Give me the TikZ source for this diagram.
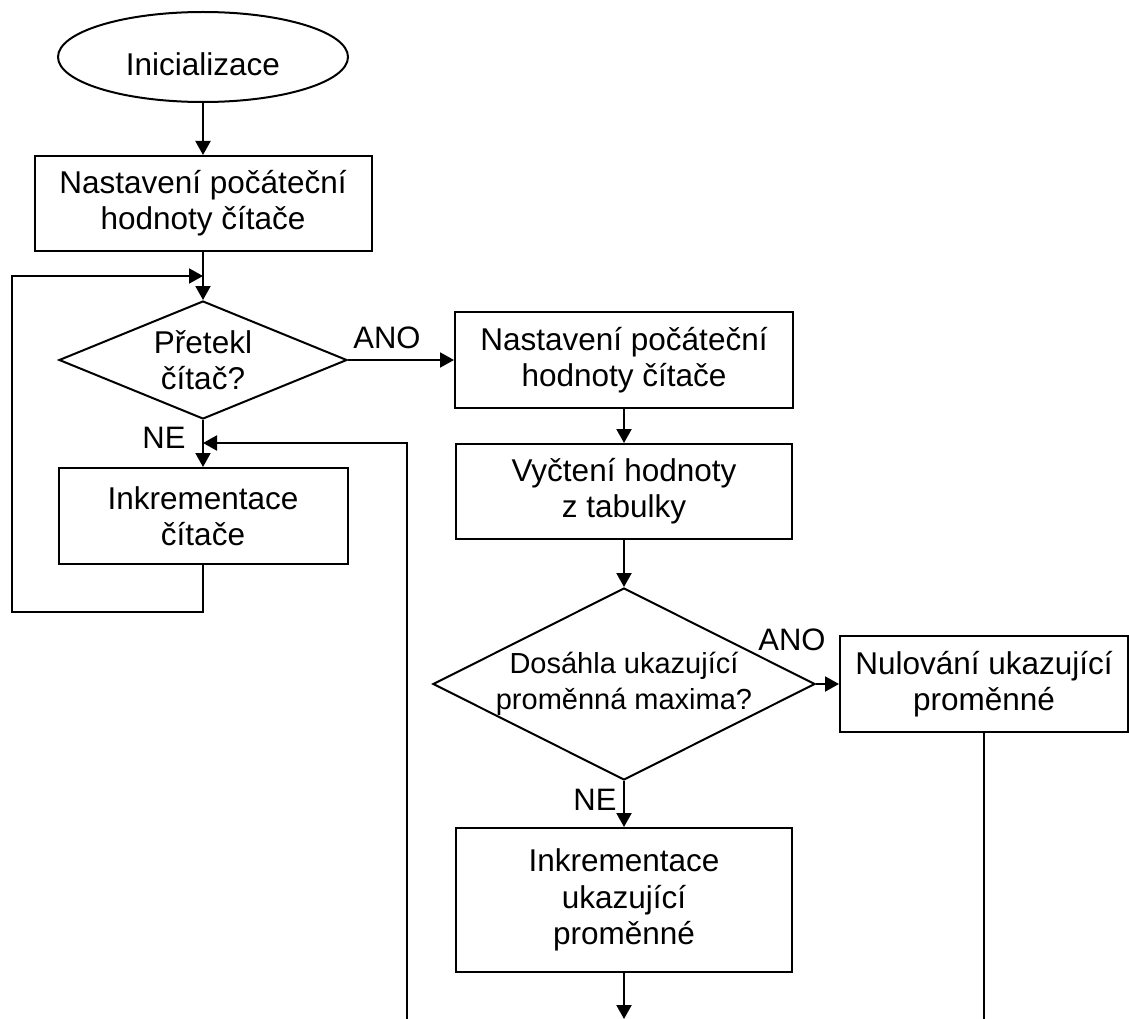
\documentclass[tikz,border=0pt]{standalone}
\usepackage{fontspec}
\setmainfont{Liberation Sans}
\usetikzlibrary{shapes.geometric,arrows.meta}
\begin{document}
\begin{tikzpicture}[x=1pt,y=-1pt,
  txt/.style={font=\fontsize{31.5}{36.2}\selectfont, inner sep=0pt, align=center},
  small/.style={font=\fontsize{29}{35.5}\selectfont},
  proc/.style={txt, draw, line width=2pt, rectangle},
  term/.style={txt, draw, line width=2pt, ellipse},
  test/.style={txt, draw, line width=2pt, diamond},
  lbl/.style={font=\fontsize{31}{36}\selectfont, inner sep=0pt},
  flow/.style={line width=2pt, -{Triangle[length=14pt,width=15pt]}},
  wire/.style={line width=2pt}]
\fill[white] (0,0) rectangle (1129,1019);
\useasboundingbox (0,0) rectangle (1129,1019);

% left column
\node[term, text height=37pt, text depth=0pt, minimum width=290, minimum height=90] (init) at (203,57) {Inicializace};
\node[proc, minimum width=337, minimum height=95] (set1) at (203,203.5) {Nastavení počáteční\\hodnoty čítače};
\node[test, aspect=2.44, minimum width=288, minimum height=118] (dec1) at (203,360) {Přetekl\\čítač?};
\node[proc, minimum width=289, minimum height=96] (inc1) at (203,516) {Inkrementace\\čítače};

% right column
\node[proc, minimum width=338, minimum height=96] (set2) at (624,360) {Nastavení počáteční\\hodnoty čítače};
\node[proc, minimum width=336, minimum height=95] (read) at (624,491.5) {Vyčtení hodnoty\\z tabulky};
\node[test, small, aspect=2, minimum width=382, minimum height=192] (dec2) at (624,684) {Dosáhla ukazující\\proměnná maxima?};
\node[proc, minimum width=288, minimum height=96] (zero) at (984,684) {Nulování ukazující\\proměnné};
\node[proc, minimum width=336, minimum height=144] (inc2) at (624,900) {Inkrementace\\ukazující\\proměnné};

% branch labels
\node[lbl] (ano1) at (387,337.5) {ANO};
\node[lbl] (ne1) at (164,438) {NE};
\node[lbl] (ano2) at (792,640) {ANO};
\node[lbl] (ne2) at (595,800) {NE};

% junction and free-end points
\coordinate (loopin) at (203,276);
\coordinate (loopbl) at (12,612);
\coordinate (loopbr) at (203,612);
\coordinate (retin) at (203,443);
\coordinate (retend) at (407,1019);
\coordinate (zeroend) at (984,1019);
\coordinate (incend) at (624,1019);

% connectors
\draw[flow] (init.south) -- (set1.north);
\draw[flow] (set1.south) -- (dec1.north);
\draw[flow] (dec1.east) -- (set2.west);
\draw[flow] (dec1.south) -- (inc1.north);
\draw[flow] (inc1.south) -- (loopbr) -- (loopbl) |- (loopin);
\draw[flow] (retend) |- (retin);
\draw[flow] (set2.south) -- (read.north);
\draw[flow] (read.south) -- (dec2.north);
\draw[flow] (dec2.east) -- (zero.west);
\draw[flow] (dec2.south) -- (inc2.north);
\draw[wire] (zero.south) -- (zeroend);
\draw[flow] (inc2.south) -- (incend);
\end{tikzpicture}
\end{document}
